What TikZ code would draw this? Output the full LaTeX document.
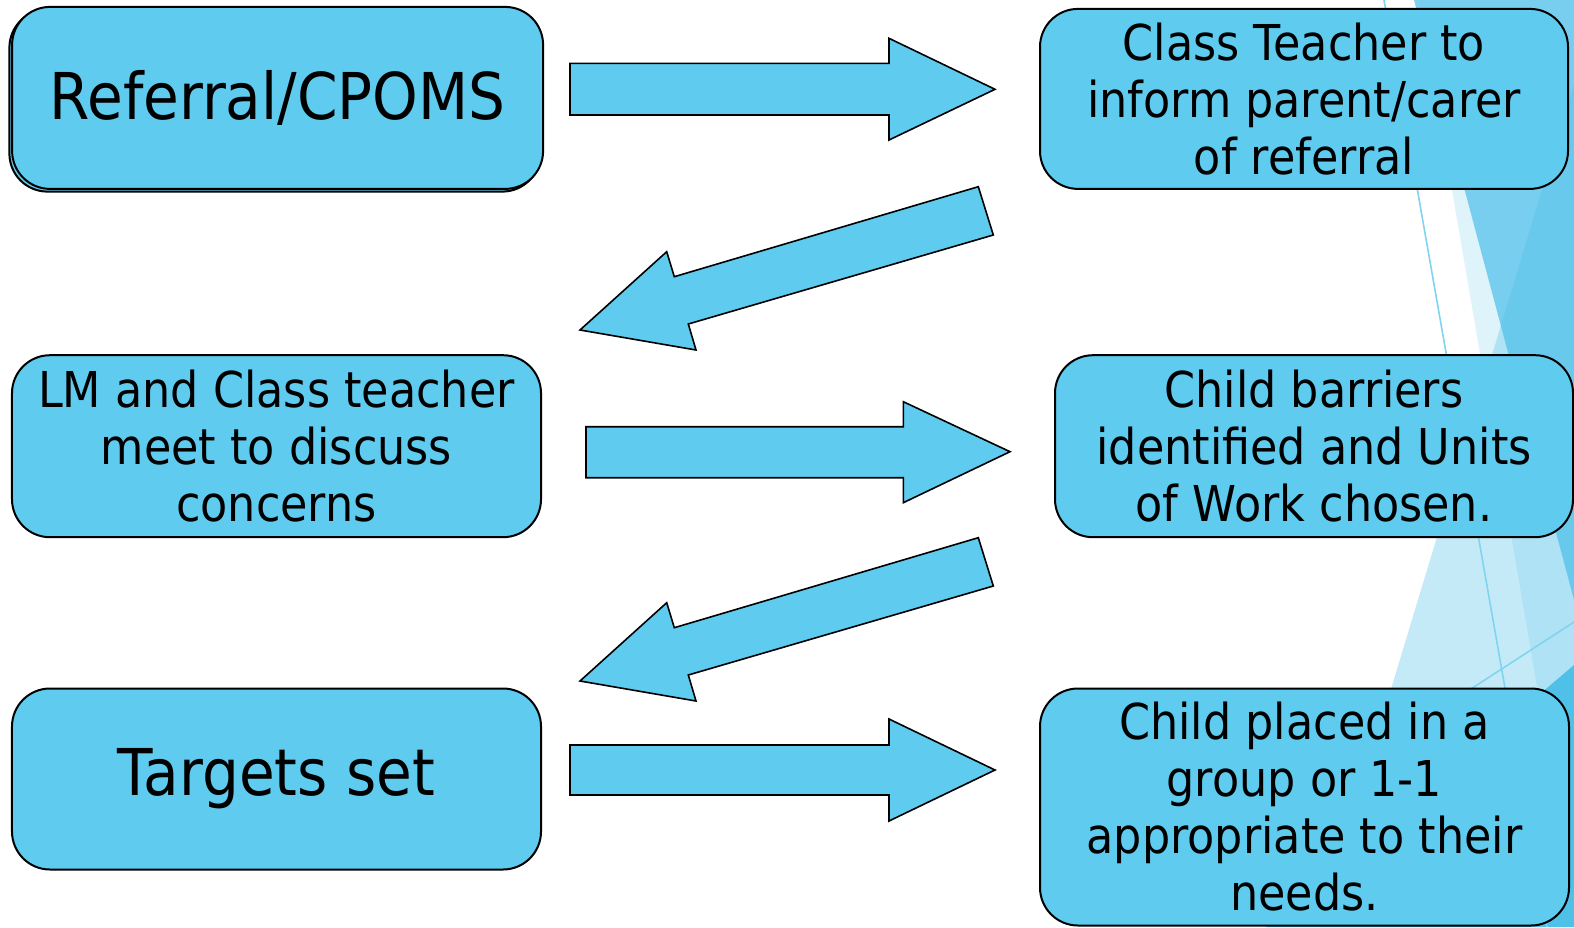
\documentclass[tikz,border=0pt]{standalone}
\usepackage{fontspec}
\setmainfont{DejaVu Sans}[FakeStretch=0.9]
\definecolor{boxblue}{RGB}{94,203,239}
\definecolor{facet}{RGB}{79,193,233}
\definecolor{facetline}{RGB}{128,212,240}
\tikzset{
  stepbox/.style={draw=black, line width=1pt, fill=boxblue, rounded corners=19bp,
    align=center, inner sep=0pt, font=\fontsize{24.8}{28.6}\selectfont},
  bigtext/.style={font=\fontsize{32.4}{36}\selectfont},
  blockarrow/.style={draw=black, line width=0.8pt, fill=boxblue, line join=miter},
  facetthin/.style={draw=facetline, line width=0.8pt},
}
\begin{document}
\begin{tikzpicture}[x=0.5bp,y=-0.5bp]
\useasboundingbox (0,0) rectangle (1574,927);
\fill[white] (0,0) rectangle (1574,927);

% background facets
\fill[facet, opacity=0.18] (1419.5,0) -- (1574,0) -- (1574,903) -- cycle;
\fill[facet, opacity=0.72] (1414,0) -- (1574,0) -- (1574,600) -- cycle;
\fill[facet, opacity=0.33] (1574,84) -- (1574,927) -- (1319,927) -- cycle;
\fill[facet] (1574,665) -- (1574,927) -- (1266,927) -- cycle;
\draw[facetthin] (1384,0) -- (1547,927);
\draw[facetthin] (1400,735) -- (1574,622);

% boxes
\node[stepbox, minimum width=265.5bp, minimum height=91bp] (b1shadow) at (274.9,100.6) {};
\node[stepbox, bigtext, minimum width=265.5bp, minimum height=91bp] (b1) at (277.6,97.9) {Referral/CPOMS};
\node[stepbox, minimum width=264bp, minimum height=90bp] (b2) at (1304,98.9)
  {Class Teacher to\\inform parent/carer\\of referral};
\node[stepbox, minimum width=264.5bp, minimum height=91bp] (b3) at (276.5,446.2)
  {LM and Class teacher\\meet to discuss\\concerns};
\node[stepbox, minimum width=259bp, minimum height=91bp] (b4) at (1314,446.2)
  {Child barriers\\identified and Units\\of Work chosen.};
\node[stepbox, bigtext, minimum width=264.5bp, minimum height=90.5bp] (b5) at (276.5,779) {Targets set};
\node[stepbox, minimum width=264.5bp, minimum height=118.5bp] (b6) at (1304.5,807)
  {Child placed in a\\group or 1-1\\appropriate to their\\needs.};

% block arrows
\draw[blockarrow] (570,63.3) -- (889,63.3) -- (889,38.3) -- (995,89.3) -- (889,140) -- (889,115) -- (570,115) -- cycle;
\draw[blockarrow] (978.3,186.7) -- (993.3,235) -- (688.3,324) -- (696,350) -- (580,330) -- (666.7,251.7) -- (674.3,276.7) -- cycle;
\draw[blockarrow] (586,426.7) -- (903.3,426.7) -- (903.3,401.7) -- (1010,451.7) -- (903.3,502.7) -- (903.3,477.7) -- (586,477.7) -- cycle;
\draw[blockarrow] (978.3,537.7) -- (993.3,586) -- (688.3,675) -- (696,701) -- (580,681) -- (666.7,602.7) -- (674.3,627.7) -- cycle;
\draw[blockarrow] (570,745) -- (889,745) -- (889,719) -- (995,770) -- (889,821) -- (889,795) -- (570,795) -- cycle;
\end{tikzpicture}
\end{document}
